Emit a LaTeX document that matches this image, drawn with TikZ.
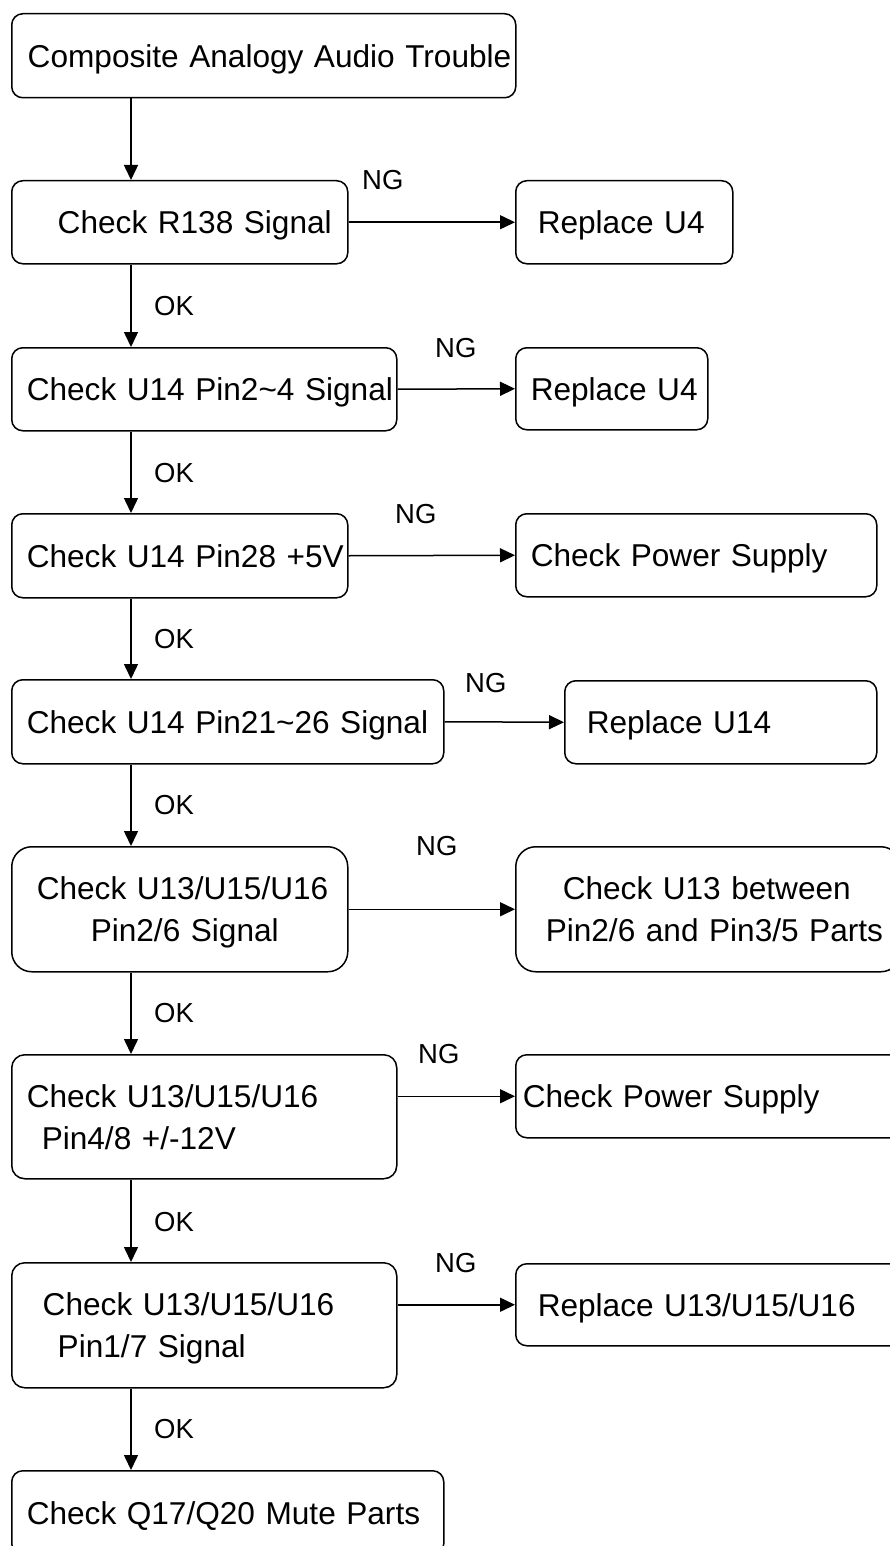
\documentclass[tikz,border=0pt]{standalone}
\usepackage{fontspec}
\setmainfont{Liberation Sans}
\usetikzlibrary{arrows.meta}

% one unbreakable text line, pushed in from the left edge of its box
\newcommand\boxline[2]{\hspace*{#1}\mbox{#2}}

\begin{document}
\begin{tikzpicture}[
  x=1pt,y=-1pt,
  every node/.style={inner sep=0pt},
  flowbox/.style={draw,line width=1.5pt,rounded corners=11pt,anchor=north west,
    align=left,text height=23pt,text depth=0pt,
    font=\fontsize{31.6pt}{42pt}\selectfont},
  twoline/.style={text depth=42pt},
  tag/.style={anchor=base west,font=\fontsize{27.5pt}{32pt}\selectfont},
  link/.style={line width=1.5pt,-{Triangle[length=15pt,width=14pt]}}
]
  \useasboundingbox (0,0) rectangle (889,1546);
  \coordinate (spine) at (131,0);

  % main column
  \node[flowbox,text width=504pt,minimum height=84pt] (top) at (11,13)
    {\boxline{16pt}{Composite Analogy Audio Trouble}};
  \node[flowbox,text width=336pt,minimum height=83pt] (r138) at (11,180)
    {\boxline{46pt}{Check R138 Signal}};
  \node[flowbox,text width=385pt,minimum height=83pt] (pina) at (11,347)
    {\boxline{15pt}{Check U14 Pin2\char`~4 Signal}};
  \node[flowbox,text width=336pt,minimum height=84pt] (pinb) at (11,513)
    {\boxline{15pt}{Check U14 Pin28 +5V}};
  \node[flowbox,text width=432pt,minimum height=84pt] (pinc) at (11,679)
    {\boxline{15pt}{Check U14 Pin21\char`~26 Signal}};
  \node[flowbox,twoline,rounded corners=20pt,text width=336pt,minimum height=125pt] (ampa) at (11,846)
    {\boxline{25pt}{Check U13/U15/U16}\\\boxline{79pt}{Pin2/6 Signal}};
  \node[flowbox,twoline,rounded corners=13pt,text width=385pt,minimum height=124pt] (ampb) at (11,1054)
    {\boxline{15pt}{Check U13/U15/U16}\\\boxline{30pt}{Pin4/8 +/-12V}};
  \node[flowbox,twoline,rounded corners=13pt,text width=385pt,minimum height=125pt] (ampc) at (11,1262)
    {\boxline{31pt}{Check U13/U15/U16}\\\boxline{46pt}{Pin1/7 Signal}};
  \node[flowbox,text width=432pt,minimum height=84pt] (mute) at (11,1470)
    {\boxline{15pt}{Check Q17/Q20 Mute Parts}};

  % NG branch
  \node[flowbox,text width=217pt,minimum height=83pt] (fixa) at (515,180)
    {\boxline{22pt}{Replace U4}};
  \node[flowbox,text width=192pt,minimum height=82pt] (fixb) at (515,347)
    {\boxline{15pt}{Replace U4}};
  \node[flowbox,text width=361pt,minimum height=83pt] (powa) at (515,513)
    {\boxline{15pt}{Check Power Supply}};
  \node[flowbox,text width=312pt,minimum height=83pt] (fixc) at (564,680)
    {\boxline{22pt}{Replace U14}};
  \node[flowbox,twoline,rounded corners=20pt,text width=385pt,minimum height=125pt] (parts) at (515,846)
    {\boxline{47pt}{Check U13 between}\\\boxline{30pt}{Pin2/6 and Pin3/5 Parts}};
  \node[flowbox,text width=385pt,minimum height=83pt] (powb) at (515,1054)
    {\boxline{7pt}{Check Power Supply}};
  \node[flowbox,text width=385pt,minimum height=82pt] (fixd) at (515,1263)
    {\boxline{22pt}{Replace U13/U15/U16}};

  % OK arrows
  \draw[link] (top.south -| spine) -- (r138.north -| spine);
  \draw[link] (r138.south -| spine) -- (pina.north -| spine);
  \draw[link] (pina.south -| spine) -- (pinb.north -| spine);
  \draw[link] (pinb.south -| spine) -- (pinc.north -| spine);
  \draw[link] (pinc.south -| spine) -- (ampa.north -| spine);
  \draw[link] (ampa.south -| spine) -- (ampb.north -| spine);
  \draw[link] (ampb.south -| spine) -- (ampc.north -| spine);
  \draw[link] (ampc.south -| spine) -- (mute.north -| spine);

  % NG arrows
  \draw[link] (r138.east) -- (fixa.west);
  \draw[link] (pina.east) -- (fixb.west);
  \draw[link] (pinb.east) -- (powa.west);
  \draw[link] (pinc.east) -- (fixc.west);
  \draw[link] (ampa.east) -- (parts.west);
  \draw[link] (ampb.east |- powb.west) -- (powb.west);
  \draw[link] (ampc.east |- fixd.west) -- (fixd.west);

  % labels
  \node[tag] (ok1) at (154,315) {OK};
  \node[tag] (ok2) at (154,482) {OK};
  \node[tag] (ok3) at (154,648) {OK};
  \node[tag] (ok4) at (154,814) {OK};
  \node[tag] (ok5) at (154,1022) {OK};
  \node[tag] (ok6) at (154,1231) {OK};
  \node[tag] (ok7) at (154,1438) {OK};
  \node[tag] (ng1) at (362,190) {NG};
  \node[tag] (ng2) at (435,357) {NG};
  \node[tag] (ng3) at (395,523) {NG};
  \node[tag] (ng4) at (465,692) {NG};
  \node[tag] (ng5) at (416,855) {NG};
  \node[tag] (ng6) at (418,1063) {NG};
  \node[tag] (ng7) at (435,1272) {NG};
\end{tikzpicture}
\end{document}
